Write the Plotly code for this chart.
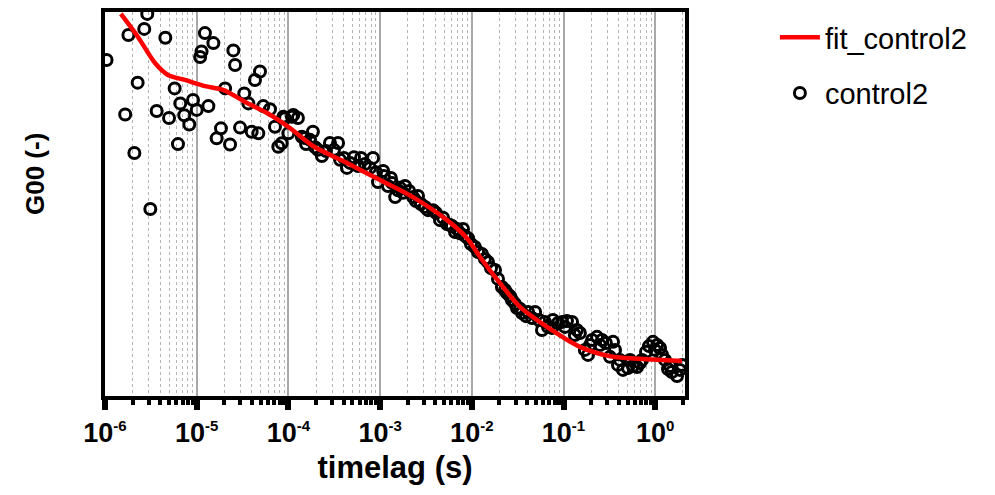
import plotly.graph_objects as go

# Scatter data (timelag in s, G00 in arbitrary units)
control2_t = [1.04e-6, 1.66e-6, 1.80e-6, 2.09e-6, 2.27e-6, 2.68e-6, 2.89e-6, 3.12e-6, 3.66e-6, 4.55e-6,
              4.99e-6, 5.75e-6, 6.25e-6, 6.62e-6, 7.32e-6, 8.30e-6, 9.12e-6, 1.00e-5, 1.09e-5, 1.13e-5,
              1.23e-5, 1.34e-5, 1.52e-5, 1.65e-5, 1.84e-5, 2.04e-5, 2.31e-5, 2.51e-5, 2.62e-5, 2.97e-5,
              3.30e-5, 3.66e-5, 3.98e-5, 4.32e-5, 4.70e-5, 4.90e-5, 5.32e-5, 6.30e-5, 7.14e-5, 7.76e-5,
              8.45e-5, 8.79e-5, 9.18e-5, 9.98e-5, 1.09e-4, 1.13e-4, 1.27e-4, 1.40e-4, 1.52e-4, 1.85e-4,
              1.95e-4, 2.32e-4, 2.84e-4, 3.48e-4, 3.66e-4, 4.35e-4, 5.19e-4, 6.19e-4, 7.76e-4, 8.37e-4,
              9.49e-4, 1.08e-3, 1.31e-3, 1.46e-3, 1.65e-3, 1.87e-3, 2.29e-3, 2.59e-3, 3.09e-3, 3.78e-3,
              4.50e-3, 5.37e-3, 6.08e-3, 6.90e-3, 8.02e-3, 9.10e-3, 1.08e-2, 1.29e-2, 1.50e-2, 1.79e-2,
              2.13e-2, 2.42e-2, 2.74e-2, 3.11e-2, 3.53e-2, 4.11e-2, 4.90e-2, 5.83e-2, 6.78e-2, 7.67e-2,
              8.71e-2, 9.64e-2, 0.109, 0.124, 0.140, 0.151, 0.171, 0.185, 0.205, 0.232,
              0.263, 0.290, 0.321, 0.347, 0.393, 0.446, 0.505, 0.573, 0.634, 0.718,
              0.794, 0.857, 0.946, 1.05, 1.13, 1.28, 1.38, 1.52, 1.73, 1.96,
              1.10e-3, 1.22e-3, 1.35e-3, 1.57e-3, 1.78e-3, 2.07e-3, 2.46e-3, 2.79e-3, 3.33e-3, 4.07e-3,
              4.85e-3, 5.78e-3, 6.56e-3, 7.43e-3, 8.43e-3, 9.80e-3, 1.17e-2, 1.39e-2, 1.62e-2, 1.93e-2,
              2.30e-2, 2.61e-2, 2.96e-2, 3.36e-2, 3.90e-2, 4.54e-2, 5.41e-2, 6.28e-2,
              1.56e-4, 1.72e-4, 2.10e-4, 2.57e-4, 3.14e-4, 4.04e-4, 4.70e-4, 5.74e-4, 6.84e-4, 9.02e-4,
              7.50e-2, 0.104, 0.133, 0.195, 0.250, 0.365, 0.413, 0.531, 0.682, 0.995,
              1.19, 1.45, 1.86]
control2_g = [0.875, 0.733, 0.940, 0.633, 0.816, 0.956, 0.995, 0.487, 0.742, 0.933,
              0.724, 0.801, 0.656, 0.762, 0.731, 0.707, 0.771, 0.745, 0.883, 0.897,
              0.945, 0.755, 0.919, 0.671, 0.697, 0.801, 0.655, 0.900, 0.862, 0.699,
              0.788, 0.762, 0.688, 0.823, 0.684, 0.845, 0.755, 0.747, 0.701, 0.649,
              0.658, 0.727, 0.723, 0.684, 0.727, 0.732, 0.724, 0.675, 0.672, 0.688,
              0.648, 0.625, 0.659, 0.659, 0.615, 0.594, 0.622, 0.620, 0.594, 0.620,
              0.557, 0.586, 0.568, 0.518, 0.542, 0.547, 0.518, 0.521, 0.492, 0.484,
              0.458, 0.448, 0.443, 0.435, 0.435, 0.411, 0.388, 0.370, 0.349, 0.328,
              0.284, 0.268, 0.250, 0.229, 0.216, 0.219, 0.219, 0.172, 0.180, 0.198,
              0.190, 0.193, 0.195, 0.193, 0.172, 0.164, 0.120, 0.107, 0.146, 0.154,
              0.146, 0.138, 0.102, 0.141, 0.081, 0.068, 0.073, 0.078, 0.0755, 0.094,
              0.115, 0.130, 0.141, 0.133, 0.125, 0.094, 0.070, 0.0625, 0.052, 0.081,
              0.573, 0.547, 0.555, 0.536, 0.529, 0.534, 0.508, 0.500, 0.484, 0.477,
              0.464, 0.445, 0.427, 0.424, 0.417, 0.396, 0.375, 0.357, 0.333, 0.305,
              0.276, 0.260, 0.240, 0.227, 0.208, 0.203, 0.198, 0.193,
              0.656, 0.667, 0.641, 0.638, 0.641, 0.620, 0.607, 0.599, 0.604, 0.583,
              0.177, 0.180, 0.159, 0.133, 0.133, 0.120, 0.094, 0.094, 0.086, 0.120,
              0.107, 0.078, 0.068]

# Fit curve
fit_t = [1.49e-6, 2.29e-6, 3.51e-6, 4.86e-6, 7.45e-6, 1.23e-5, 1.94e-5, 3.54e-5, 5.85e-5, 1.04e-4,
         1.85e-4, 4.35e-4, 9.97e-4, 2.28e-3, 5.37e-3, 8.87e-3, 1.23e-2, 2.03e-2, 3.36e-2, 6.61e-2,
         0.151, 0.347, 0.815, 1.96]
fit_g = [0.995, 0.935, 0.867, 0.836, 0.823, 0.807, 0.797, 0.763, 0.737, 0.698,
         0.651, 0.607, 0.5625, 0.518, 0.458, 0.411, 0.362, 0.294, 0.232, 0.180,
         0.128, 0.102, 0.096, 0.091]

# Axis tick labels
tick_vals = [1e-6, 1e-5, 1e-4, 1e-3, 1e-2, 1e-1, 1e0]
tick_exps = ["-6", "-5", "-4", "-3", "-2", "-1", "0"]
tick_text = ["10<sup><span style='font-size:15px'>%s</span></sup>" % e for e in tick_exps]

FONT = "Liberation Sans, Arial, sans-serif"

fig = go.Figure()
fig.add_trace(go.Scatter(
    x=control2_t, y=control2_g, mode="markers", name="control2",
    legendgroup="b", legendrank=2,
    marker=dict(symbol="circle-open", size=11, color="black", line=dict(width=3, color="black")),
))
fig.add_trace(go.Scatter(
    x=fit_t, y=fit_g, mode="lines", name="fit_control2",
    legendgroup="a", legendrank=1,
    line=dict(color="#ff0000", width=4.5, shape="spline", smoothing=0.8),
))

fig.update_layout(
    width=995, height=495,
    margin=dict(l=97, r=318, t=4, b=107, autoexpand=False),
    paper_bgcolor="white", plot_bgcolor="white",
    font=dict(family=FONT, color="black"),
    showlegend=True,
    legend=dict(
        x=1.155, y=1.0, xanchor="left", yanchor="top",
        traceorder="grouped", tracegroupgap=15,
        font=dict(size=29, family=FONT, color="black"),
        bgcolor="rgba(0,0,0,0)", itemwidth=40,
    ),
    annotations=[dict(
        text="G00 (-)", textangle=-90, xref="paper", yref="paper",
        x=-0.1207, y=0.578, xanchor="center", yanchor="middle", showarrow=False,
        font=dict(size=26, family=FONT, weight="bold", color="black"),
    )],
)

fig.update_xaxes(
    type="log", range=[-6, 0.325],
    showline=True, linecolor="black", linewidth=4, mirror=True,
    ticks="outside", ticklen=10, tickwidth=6, tickcolor="black",
    tickvals=tick_vals, ticktext=tick_text,
    tickfont=dict(size=27, family=FONT, weight="bold", color="black"),
    showgrid=True, gridcolor="#a8a8a8", gridwidth=1.5,
    minor=dict(dtick="D1", ticks="outside", ticklen=5, tickwidth=4, tickcolor="black",
               showgrid=True, gridcolor="#b4b4b4", gridwidth=1, griddash="dot"),
    title=dict(text="timelag (s)", standoff=10,
               font=dict(size=31, family=FONT, weight="bold", color="black")),
    zeroline=False,
)
fig.update_yaxes(
    range=[0, 1],
    showline=True, linecolor="black", linewidth=4, mirror=True,
    ticks="", showticklabels=False, showgrid=False, zeroline=False,
)

fig.write_html("out.html")
